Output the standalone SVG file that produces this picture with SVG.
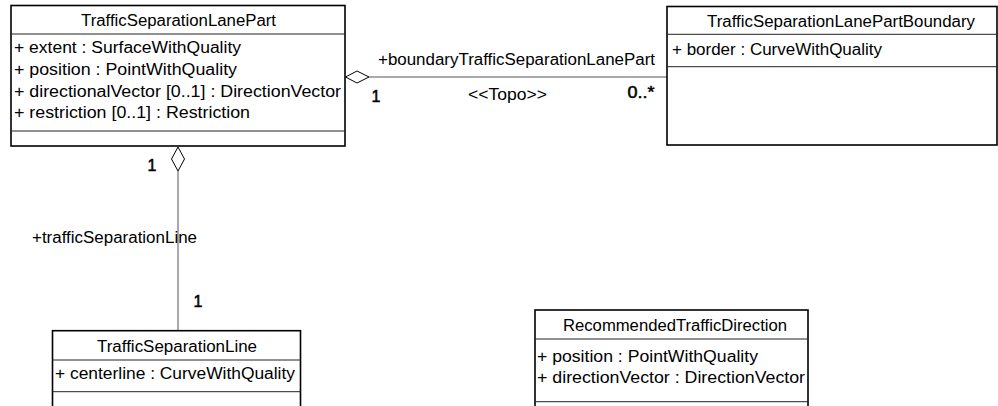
<svg xmlns="http://www.w3.org/2000/svg" width="998" height="406" viewBox="0 0 998 406">
  <style>
    text { font-family: "Liberation Sans", Arial, sans-serif; font-size: 16px; fill: #000; }
    .box { fill: #fff; stroke: #000; stroke-width: 1.6; }
    .sep { stroke: #222; stroke-width: 1; }
    .conn { stroke: #555; stroke-width: 1; fill: none; }
    .diamond { fill: #fff; stroke: #000; stroke-width: 1; }
    .mult { stroke: #000; stroke-width: 0.5; }
  </style>

  <!-- associations -->
  <g id="connectors">
    <line class="conn" x1="369" y1="77" x2="667" y2="77"/>
    <polygon class="diamond" points="345.5,77 357,71 369,77 357,83"/>
    <line class="conn" x1="178" y1="171" x2="178" y2="331"/>
    <polygon class="diamond" points="178,147 184.5,159 178,171 171.5,159"/>
    <text x="378" y="65" textLength="277" lengthAdjust="spacingAndGlyphs">+boundaryTrafficSeparationLanePart</text>
    <text class="mult" x="371.5" y="101.5">1</text>
    <text x="468" y="100" textLength="79" lengthAdjust="spacingAndGlyphs">&lt;&lt;Topo&gt;&gt;</text>
    <text class="mult" x="627.5" y="98" textLength="27" lengthAdjust="spacingAndGlyphs">0..*</text>
    <text class="mult" x="147.5" y="171">1</text>
    <text x="32" y="243" textLength="165" lengthAdjust="spacingAndGlyphs">+trafficSeparationLine</text>
    <text class="mult" x="193.5" y="307">1</text>
  </g>

  <!-- TrafficSeparationLanePart -->
  <g id="TrafficSeparationLanePart">
    <rect class="box" x="11" y="5.5" width="334" height="140.5"/>
    <line class="sep" x1="11" y1="34" x2="345" y2="34"/>
    <line class="sep" x1="11" y1="131" x2="345" y2="131"/>
    <text x="81" y="26" textLength="195" lengthAdjust="spacingAndGlyphs">TrafficSeparationLanePart</text>
    <text x="14" y="53" textLength="227" lengthAdjust="spacingAndGlyphs">+ extent : SurfaceWithQuality</text>
    <text x="14" y="75" textLength="223" lengthAdjust="spacingAndGlyphs">+ position : PointWithQuality</text>
    <text x="14" y="96.5" textLength="327" lengthAdjust="spacingAndGlyphs">+ directionalVector [0..1] : DirectionVector</text>
    <text x="14" y="118" textLength="236" lengthAdjust="spacingAndGlyphs">+ restriction [0..1] : Restriction</text>
  </g>

  <!-- TrafficSeparationLanePartBoundary -->
  <g id="TrafficSeparationLanePartBoundary">
    <rect class="box" x="667" y="6.5" width="330" height="138.5"/>
    <line class="sep" x1="667" y1="34.3" x2="997" y2="34.3"/>
    <line class="sep" x1="667" y1="66.7" x2="997" y2="66.7"/>
    <text x="707" y="26.7" textLength="268" lengthAdjust="spacingAndGlyphs">TrafficSeparationLanePartBoundary</text>
    <text x="672" y="55" textLength="210" lengthAdjust="spacingAndGlyphs">+ border : CurveWithQuality</text>
  </g>

  <!-- TrafficSeparationLine -->
  <g id="TrafficSeparationLine">
    <rect class="box" x="52.5" y="330.7" width="248" height="90"/>
    <line class="sep" x1="52.5" y1="360" x2="300.5" y2="360"/>
    <line class="sep" x1="52.5" y1="391.7" x2="300.5" y2="391.7"/>
    <text x="97" y="351.5" textLength="160" lengthAdjust="spacingAndGlyphs">TrafficSeparationLine</text>
    <text x="55" y="379" textLength="240" lengthAdjust="spacingAndGlyphs">+ centerline : CurveWithQuality</text>
  </g>

  <!-- RecommendedTrafficDirection -->
  <g id="RecommendedTrafficDirection">
    <rect class="box" x="535" y="310" width="273" height="110"/>
    <line class="sep" x1="535" y1="339" x2="808" y2="339"/>
    <line class="sep" x1="535" y1="401.7" x2="808" y2="401.7"/>
    <text x="563" y="331" textLength="224" lengthAdjust="spacingAndGlyphs">RecommendedTrafficDirection</text>
    <text x="537" y="361.5" textLength="221" lengthAdjust="spacingAndGlyphs">+ position : PointWithQuality</text>
    <text x="537" y="383" textLength="268" lengthAdjust="spacingAndGlyphs">+ directionVector : DirectionVector</text>
  </g>
</svg>
